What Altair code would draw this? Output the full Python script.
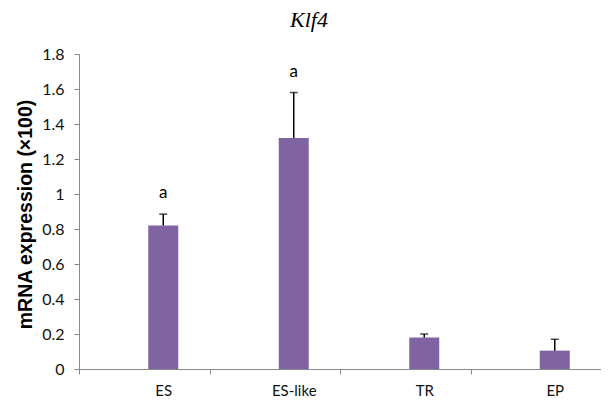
import altair as alt
import pandas as pd

categories = ["ES", "ES-like", "TR", "EP"]
values = [0.82, 1.32, 0.18, 0.105]
errors = [0.065, 0.26, 0.02, 0.065]
letters = ["a", "a", "", ""]
yticks = [0, 0.2, 0.4, 0.6, 0.8, 1, 1.2, 1.4, 1.6, 1.8]

df = pd.DataFrame({
    "cat": categories,
    "val": values,
    "err": errors,
    "top": [v + e for v, e in zip(values, errors)],
    "letter": letters,
})

OFF = 19
x = alt.X("cat:N", sort=categories, title=None,
          scale=alt.Scale(paddingInner=0, paddingOuter=0),
          axis=alt.Axis(labelAngle=0, tickBand="extent", labelOffset=OFF,
                        domainColor="#898989", tickColor="#898989", tickSize=5,
                        labelFont="Lato", labelFontSize=15, labelColor="#111111",
                        labelPadding=9))

yscale = alt.Scale(domain=[0, 1.8], nice=False)
yaxis = alt.Axis(values=yticks, tickCount=10,
                 format="~g", grid=False, domainColor="#898989",
                 tickColor="#898989", tickSize=5, labelPadding=10,
                 labelOverlap=False, labelBound=False, labelFlush=False,
                 labelFont="Lato", labelFontSize=16, labelColor="#111111",
                 titleFont="Liberation Sans", titleFontSize=19.5,
                 titleFontWeight="bold", titleColor="#000000",
                 titleX=-44, titleY=160)
YT = "mRNA expression (×100)"

bars = alt.Chart(df).mark_bar(color="#8064A2", width=30, xOffset=OFF).encode(
    x=x,
    y=alt.Y("val:Q", scale=yscale, title=YT, axis=yaxis),
)

err = alt.Chart(df).mark_rule(color="#000000", strokeWidth=1.5, xOffset=OFF).encode(
    x=alt.X("cat:N", sort=categories),
    y=alt.Y("val:Q", scale=yscale, title=YT, axis=yaxis),
    y2="top:Q",
)

caps = alt.Chart(df).mark_tick(color="#000000", thickness=1.5, size=8, xOffset=OFF).encode(
    x=alt.X("cat:N", sort=categories),
    y=alt.Y("top:Q", scale=yscale, title=YT, axis=yaxis),
)

labels = alt.Chart(df).mark_text(font="Lato", fontSize=17, color="#000000",
                                 baseline="alphabetic", dy=-16, dx=OFF).encode(
    x=alt.X("cat:N", sort=categories),
    y=alt.Y("top:Q", scale=yscale, title=YT, axis=yaxis),
    text="letter:N",
)

chart = alt.layer(bars, err, caps, labels).properties(
    width=522,
    height=315,
    autosize=alt.AutoSizeParams(type="none"),
    padding={"left": 71, "top": 46, "right": 0, "bottom": 30},
    title=alt.TitleParams("Klf4", font="Liberation Serif", fontSize=22,
                          fontStyle="italic", fontWeight="normal", color="#000000",
                          anchor="middle", dx=-31, offset=14),
).configure_view(stroke=None)

chart.save("out.html", embed_options={"renderer": "svg", "actions": False})
